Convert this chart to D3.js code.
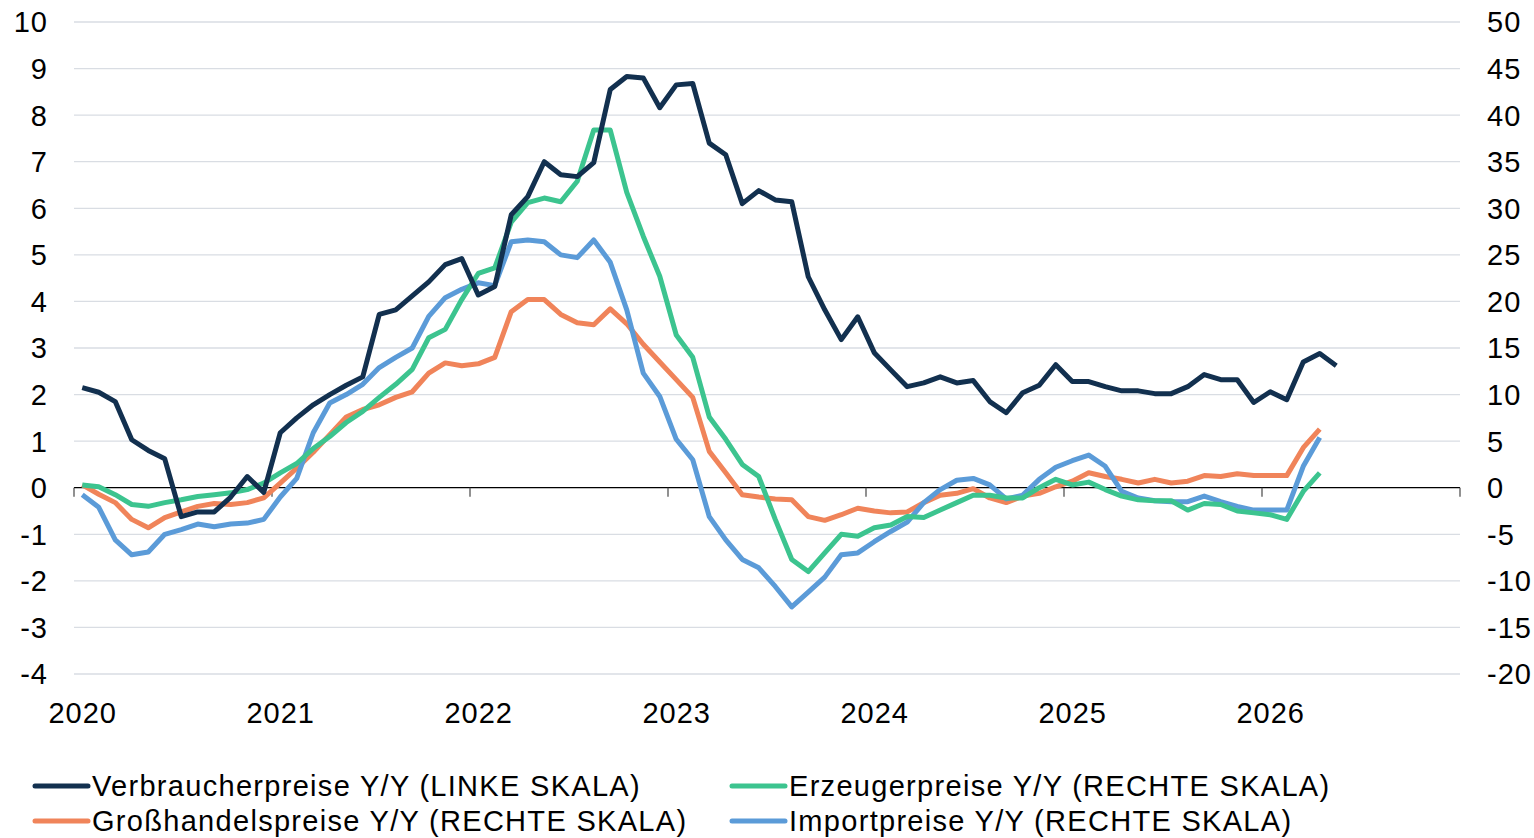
<!DOCTYPE html>
<html><head><meta charset="utf-8">
<script src="https://cdn.jsdelivr.net/npm/d3@7"></script>
<style>body{margin:0;background:#fff}svg{display:block}text{font-family:"Liberation Sans",Arial,sans-serif;fill:#000}</style>
</head><body>
<svg id="c" width="1534" height="838"></svg>
<script>
const years = ["2020","2021","2022","2023","2024","2025","2026"];
const leftTicks = [10,9,8,7,6,5,4,3,2,1,0,-1,-2,-3,-4];
const rightTicks = [50,45,40,35,30,25,20,15,10,5,0,-5,-10,-15,-20];
// monthly, starting Jan 2020
const cpi = [2.15,2.05,1.85,1.03,0.8,0.62,-0.62,-0.52,-0.52,-0.2,0.24,-0.1,
 1.18,1.5,1.78,2.0,2.2,2.38,3.72,3.82,4.12,4.42,4.79,4.92,
 4.14,4.32,5.86,6.25,7.0,6.72,6.68,6.98,8.55,8.83,8.8,8.16,
 8.65,8.68,7.4,7.15,6.1,6.38,6.18,6.14,4.53,3.82,3.18,3.67,
 2.9,2.53,2.17,2.25,2.38,2.25,2.3,1.85,1.61,2.04,2.2,2.64,
 2.28,2.28,2.17,2.08,2.08,2.02,2.02,2.17,2.43,2.32,2.32,1.83,
 2.06,1.89,2.7,2.88,2.62];
const ppi = [0.3,0.1,-0.75,-1.8,-2.0,-1.6,-1.3,-0.95,-0.75,-0.55,-0.2,0.5,
 1.6,2.6,4.2,5.5,7.0,8.2,9.7,11.1,12.7,16.1,17.0,20.2,
 23.0,23.6,28.5,30.6,31.1,30.7,32.9,38.4,38.4,31.7,27.0,22.7,
 16.4,14.0,7.6,5.2,2.5,1.2,-3.4,-7.7,-9.0,-7.0,-5.0,-5.2,
 -4.3,-4.0,-3.1,-3.2,-2.4,-1.6,-0.8,-0.8,-1.1,-1.1,0.0,0.9,
 0.3,0.6,-0.2,-0.9,-1.3,-1.4,-1.4,-2.4,-1.7,-1.8,-2.5,-2.7,
 -2.9,-3.4,-0.4,1.6];
const wpi = [0.3,-0.7,-1.6,-3.4,-4.3,-3.2,-2.6,-2.0,-1.7,-1.8,-1.6,-1.1,
 0.5,2.1,3.8,5.7,7.6,8.4,8.9,9.7,10.3,12.3,13.4,13.1,
 13.3,14.0,18.9,20.2,20.2,18.6,17.7,17.5,19.2,17.6,15.4,13.5,
 11.6,9.7,3.9,1.6,-0.75,-1.0,-1.2,-1.3,-3.1,-3.5,-2.9,-2.2,
 -2.5,-2.7,-2.6,-1.6,-0.8,-0.6,-0.1,-1.1,-1.6,-0.9,-0.6,0.1,
 0.7,1.6,1.2,0.9,0.5,0.9,0.5,0.7,1.3,1.2,1.5,1.3,
 1.3,1.3,4.3,6.3];
const ipi = [-0.75,-2.1,-5.6,-7.2,-6.9,-5.0,-4.5,-3.9,-4.2,-3.9,-3.8,-3.4,
 -1.0,1.0,5.9,9.1,10.0,11.1,12.9,14.0,15.0,18.4,20.4,21.3,
 22.0,21.7,26.4,26.6,26.4,25.0,24.7,26.6,24.2,19.1,12.3,9.8,
 5.2,3.0,-3.1,-5.6,-7.7,-8.6,-10.6,-12.8,-11.2,-9.6,-7.2,-7.0,
 -5.8,-4.7,-3.7,-1.6,-0.2,0.8,1.0,0.3,-1.2,-0.8,0.9,2.2,
 2.9,3.5,2.3,-0.4,-1.1,-1.4,-1.5,-1.5,-0.9,-1.5,-2.0,-2.4,
 -2.4,-2.4,2.3,5.4];
const seriesNames = ["Verbraucherpreise Y/Y (LINKE SKALA)","Erzeugerpreise Y/Y (RECHTE SKALA)",
 "Großhandelspreise Y/Y (RECHTE SKALA)","Importpreise Y/Y (RECHTE SKALA)"];
const colors = ["#12304f","#3cc48f","#f0845a","#5b9bd8"];

const svg = d3.select("#c");
const x = d3.scaleLinear().domain([-0.5, 83.5]).range([74, 1460]);
const yL = d3.scaleLinear().domain([-4, 10]).range([674, 22]);
const yR = d3.scaleLinear().domain([-20, 50]).range([674, 22]);

// gridlines
svg.append("g").selectAll("line").data(leftTicks.filter(d=>d!==0)).join("line")
  .attr("x1", 74).attr("x2", 1460).attr("y1", d=>yL(d)).attr("y2", d=>yL(d))
  .attr("stroke", "#d9dde3").attr("stroke-width", 1.3);

// left labels
svg.append("g").selectAll("text").data(leftTicks).join("text")
  .attr("x", 48).attr("y", d=>yL(d)).attr("dy","0.36em").attr("text-anchor","end")
  .style("font-size","29px").style("letter-spacing","1px").text(d=>d);
// right labels
svg.append("g").selectAll("text").data(rightTicks).join("text")
  .attr("x", 1487).attr("y", d=>yR(d)).attr("dy","0.36em").attr("text-anchor","start")
  .style("font-size","29px").style("letter-spacing","1px").text(d=>d);

// zero axis
svg.append("line").attr("x1",74).attr("x2",1460).attr("y1",yL(0)).attr("y2",yL(0))
  .attr("stroke","#000").attr("stroke-width",1.3);
const bounds = d3.range(0, 8).map(k => k*12 - 0.5);
svg.append("g").selectAll("line").data(bounds).join("line")
  .attr("x1", d=>x(d)).attr("x2", d=>x(d)).attr("y1", yL(0)).attr("y2", yL(0)+9)
  .attr("stroke","#555").attr("stroke-width",1.3);
svg.append("g").selectAll("text").data(years).join("text")
  .attr("x", (d,i)=>x(i*12)+0.5).attr("y", 723).attr("text-anchor","middle")
  .style("font-size","29px").style("letter-spacing","1px").text(d=>d);

const lineL = d3.line().x((d,i)=>x(i)).y(d=>yL(d));
const lineR = d3.line().x((d,i)=>x(i)).y(d=>yR(d));
const draws = [[wpi,lineR,2],[ipi,lineR,3],[ppi,lineR,1],[cpi,lineL,0]];
draws.forEach(([data,gen,ci]) => {
  svg.append("path").datum(data).attr("d", gen).attr("fill","none")
    .attr("stroke", colors[ci]).attr("stroke-width", 5).attr("stroke-linejoin","round");
});

// legend
const legPos = [[33,786],[730,786],[33,821],[730,821]];
seriesNames.forEach((n,i) => {
  const [lx,ly] = legPos[i];
  svg.append("line").attr("x1",lx+2).attr("x2",lx+55).attr("y1",ly).attr("y2",ly)
    .attr("stroke",colors[i]).attr("stroke-width",5).attr("stroke-linecap","round");
  svg.append("text").attr("x",lx+59).attr("y",ly).attr("dy","0.36em")
    .style("font-size","29px").style("letter-spacing","1.3px").text(n);
});
</script>
</body></html>
